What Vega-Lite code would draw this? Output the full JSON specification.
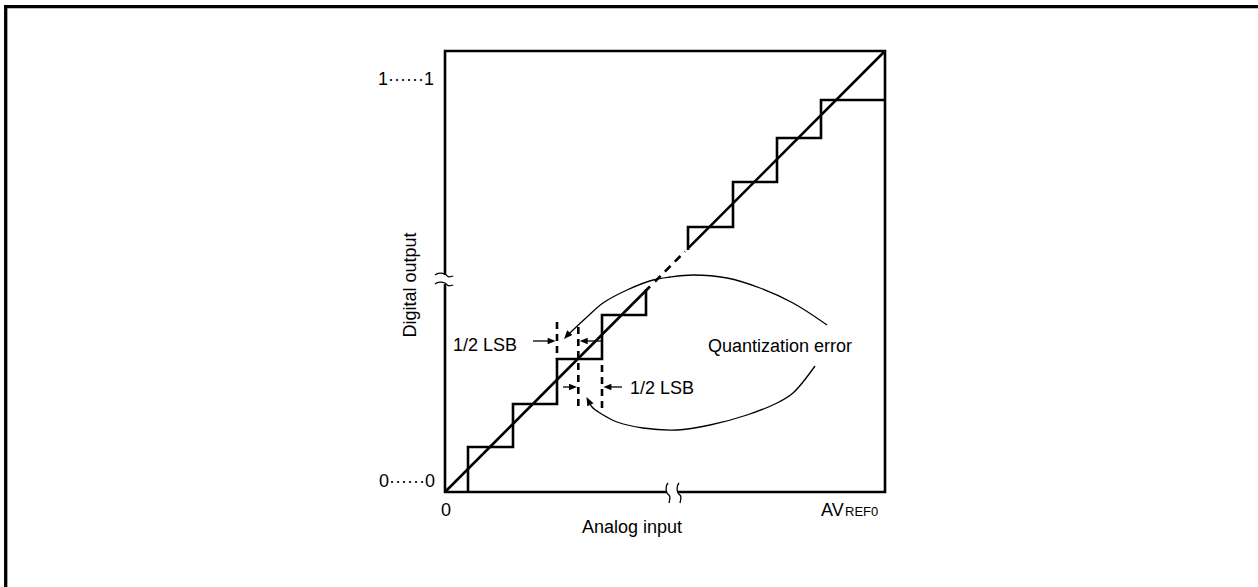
{
  "$schema": "https://vega.github.io/schema/vega-lite/v6.json",
  "width": 1258,
  "height": 587,
  "padding": 0,
  "autosize": {"type": "none"},
  "background": "white",
  "config": {"view": {"stroke": null}},
  "datasets": {
    "frame": [
      {"g": "L", "o": 1, "a": -439.3, "d": 487},
      {"g": "L", "o": 2, "a": -439.3, "d": -95},
      {"g": "T", "o": 1, "a": -441, "d": 485.3},
      {"g": "T", "o": 2, "a": 813, "d": 485.3}
    ],
    "solid": [
      {"g": "boxA", "o": 1, "a": 0, "d": 208},
      {"g": "boxA", "o": 2, "a": 0, "d": 0},
      {"g": "boxA", "o": 3, "a": 222, "d": 0},
      {"g": "boxB", "o": 1, "a": 233, "d": 0},
      {"g": "boxB", "o": 2, "a": 440, "d": 0},
      {"g": "boxB", "o": 3, "a": 440, "d": 441},
      {"g": "boxB", "o": 4, "a": 0, "d": 441},
      {"g": "boxB", "o": 5, "a": 0, "d": 217},
      {"g": "lo", "o": 1, "a": 23, "d": 0},
      {"g": "lo", "o": 2, "a": 23, "d": 45},
      {"g": "lo", "o": 3, "a": 68, "d": 45},
      {"g": "lo", "o": 4, "a": 68, "d": 88},
      {"g": "lo", "o": 5, "a": 112, "d": 88},
      {"g": "lo", "o": 6, "a": 112, "d": 133},
      {"g": "lo", "o": 7, "a": 157, "d": 133},
      {"g": "lo", "o": 8, "a": 157, "d": 177},
      {"g": "lo", "o": 9, "a": 201, "d": 177},
      {"g": "lo", "o": 10, "a": 201, "d": 203},
      {"g": "hi", "o": 1, "a": 243, "d": 242},
      {"g": "hi", "o": 2, "a": 243, "d": 265},
      {"g": "hi", "o": 3, "a": 288, "d": 265},
      {"g": "hi", "o": 4, "a": 288, "d": 310},
      {"g": "hi", "o": 5, "a": 332, "d": 310},
      {"g": "hi", "o": 6, "a": 332, "d": 354},
      {"g": "hi", "o": 7, "a": 376, "d": 354},
      {"g": "hi", "o": 8, "a": 376, "d": 392},
      {"g": "hi", "o": 9, "a": 440, "d": 392},
      {"g": "diag1", "o": 1, "a": 0, "d": 0},
      {"g": "diag1", "o": 2, "a": 205, "d": 205.5},
      {"g": "diag2", "o": 1, "a": 243, "d": 243.6},
      {"g": "diag2", "o": 2, "a": 440, "d": 441}
    ],
    "dashedV": [
      {"g": "v1", "o": 1, "a": 112, "d": 170},
      {"g": "v1", "o": 2, "a": 112, "d": 133},
      {"g": "v2", "o": 1, "a": 133.3, "d": 165},
      {"g": "v2", "o": 2, "a": 133.3, "d": 84},
      {"g": "v3", "o": 1, "a": 157, "d": 127},
      {"g": "v3", "o": 2, "a": 157, "d": 84}
    ],
    "dashedD": [
      {"g": "dd", "o": 1, "a": 210, "d": 210.5},
      {"g": "dd", "o": 2, "a": 240, "d": 240.5}
    ],
    "thin": [
      {"g": "c1", "o": 1, "a": 382, "d": 167},
      {"g": "c1", "o": 2, "a": 348, "d": 189},
      {"g": "c1", "o": 3, "a": 315, "d": 204},
      {"g": "c1", "o": 4, "a": 282, "d": 214},
      {"g": "c1", "o": 5, "a": 248, "d": 217},
      {"g": "c1", "o": 6, "a": 225, "d": 215},
      {"g": "c1", "o": 7, "a": 208, "d": 212},
      {"g": "c1", "o": 8, "a": 182, "d": 202},
      {"g": "c1", "o": 9, "a": 158, "d": 189},
      {"g": "c1", "o": 10, "a": 142, "d": 175},
      {"g": "c1", "o": 11, "a": 128, "d": 162},
      {"g": "c1", "o": 12, "a": 122, "d": 156},
      {"g": "c2", "o": 1, "a": 370, "d": 126},
      {"g": "c2", "o": 2, "a": 348, "d": 99},
      {"g": "c2", "o": 3, "a": 332, "d": 89},
      {"g": "c2", "o": 4, "a": 302, "d": 77},
      {"g": "c2", "o": 5, "a": 265, "d": 67},
      {"g": "c2", "o": 6, "a": 232, "d": 62},
      {"g": "c2", "o": 7, "a": 198, "d": 64},
      {"g": "c2", "o": 8, "a": 172, "d": 70},
      {"g": "c2", "o": 9, "a": 155, "d": 79},
      {"g": "c2", "o": 10, "a": 147, "d": 85},
      {"g": "c2", "o": 11, "a": 143, "d": 92},
      {"g": "s1", "o": 1, "a": 88, "d": 151},
      {"g": "s1", "o": 2, "a": 106, "d": 151},
      {"g": "s2", "o": 1, "a": 157, "d": 151},
      {"g": "s2", "o": 2, "a": 139, "d": 151},
      {"g": "s3", "o": 1, "a": 118, "d": 105},
      {"g": "s3", "o": 2, "a": 128, "d": 105},
      {"g": "s4", "o": 1, "a": 177, "d": 105},
      {"g": "s4", "o": 2, "a": 162, "d": 105},
      {"g": "t1", "o": 1, "a": -10, "d": 217},
      {"g": "t1", "o": 2, "a": -6.7, "d": 218.7},
      {"g": "t1", "o": 3, "a": 0, "d": 218},
      {"g": "t1", "o": 4, "a": 3.3, "d": 215.3},
      {"g": "t1", "o": 5, "a": 8.3, "d": 216},
      {"g": "t2", "o": 1, "a": -10, "d": 208},
      {"g": "t2", "o": 2, "a": -6.7, "d": 209.7},
      {"g": "t2", "o": 3, "a": 0, "d": 209},
      {"g": "t2", "o": 4, "a": 3.3, "d": 206.3},
      {"g": "t2", "o": 5, "a": 8.3, "d": 207},
      {"g": "t3", "o": 1, "a": 223, "d": 9},
      {"g": "t3", "o": 2, "a": 221.3, "d": 5.7},
      {"g": "t3", "o": 3, "a": 222, "d": -1},
      {"g": "t3", "o": 4, "a": 224.7, "d": -4.3},
      {"g": "t3", "o": 5, "a": 224, "d": -11},
      {"g": "t4", "o": 1, "a": 234, "d": 9},
      {"g": "t4", "o": 2, "a": 232.3, "d": 5.7},
      {"g": "t4", "o": 3, "a": 233, "d": -1},
      {"g": "t4", "o": 4, "a": 235.7, "d": -4.3},
      {"g": "t4", "o": 5, "a": 235, "d": -11}
    ],
    "heads": [
      {"a": 110.6, "d": 151, "ang": 0},
      {"a": 134.7, "d": 151, "ang": 180},
      {"a": 132, "d": 105, "ang": 0},
      {"a": 158.4, "d": 105, "ang": 180}
    ],
    "curveHeads": [
      {"a": 119, "d": 153, "ang": 132},
      {"a": 141.5, "d": 95, "ang": 243}
    ],
    "textRight": [
      {"a": -11, "d": 407, "t": "1······1"},
      {"a": -10, "d": 5, "t": "0······0"}
    ],
    "textLeft": [
      {"a": 376, "d": -24, "t": "AV"},
      {"a": 8, "d": 141.5, "t": "1/2 LSB"},
      {"a": 185, "d": 98.5, "t": "1/2 LSB"},
      {"a": 263, "d": 140.5, "t": "Quantization error"}
    ],
    "textSub": [
      {"a": 400, "d": -24, "t": "REF0"}
    ],
    "textCenter": [
      {"a": 1, "d": -24, "t": "0"},
      {"a": 187, "d": -41, "t": "Analog input"}
    ],
    "textRot": [
      {"a": -29, "d": 207, "t": "Digital output"}
    ]
  },
  "encoding": {
    "x": {"field": "a", "type": "quantitative", "scale": {"domain": [-445, 813], "nice": false, "zero": false}, "axis": null},
    "y": {"field": "d", "type": "quantitative", "scale": {"domain": [-95, 492], "nice": false, "zero": false}, "axis": null}
  },
  "layer": [
    {
      "data": {"name": "frame"},
      "mark": {"type": "line", "color": "#000000", "strokeWidth": 3.3, "strokeCap": "butt"},
      "encoding": {"detail": {"field": "g"}, "order": {"field": "o", "type": "quantitative"}}
    },
    {
      "data": {"name": "solid"},
      "mark": {"type": "line", "color": "#000000", "strokeWidth": 2.6, "strokeCap": "butt", "strokeJoin": "miter"},
      "encoding": {"detail": {"field": "g"}, "order": {"field": "o", "type": "quantitative"}}
    },
    {
      "data": {"name": "dashedV"},
      "mark": {"type": "line", "color": "#000000", "strokeWidth": 2.6, "strokeCap": "butt", "strokeDash": [7, 5]},
      "encoding": {"detail": {"field": "g"}, "order": {"field": "o", "type": "quantitative"}}
    },
    {
      "data": {"name": "dashedD"},
      "mark": {"type": "line", "color": "#000000", "strokeWidth": 2.6, "strokeCap": "butt", "strokeDash": [8, 6]},
      "encoding": {"detail": {"field": "g"}, "order": {"field": "o", "type": "quantitative"}}
    },
    {
      "data": {"name": "thin"},
      "mark": {"type": "line", "color": "#000000", "strokeWidth": 1.3, "interpolate": "catmull-rom"},
      "encoding": {"detail": {"field": "g"}, "order": {"field": "o", "type": "quantitative"}}
    },
    {
      "data": {"name": "heads"},
      "mark": {"type": "point", "shape": "M0,0L-1,-0.4L-1,0.4Z", "filled": true, "color": "#000000", "opacity": 1, "size": 256, "strokeWidth": 0},
      "encoding": {"angle": {"field": "ang", "type": "quantitative", "scale": null}}
    },
    {
      "data": {"name": "curveHeads"},
      "mark": {"type": "point", "shape": "M0,0L-1,-0.4L-1,0.4Z", "filled": true, "color": "#000000", "opacity": 1, "size": 300, "strokeWidth": 0},
      "encoding": {"angle": {"field": "ang", "type": "quantitative", "scale": null}}
    },
    {
      "data": {"name": "textRight"},
      "mark": {"type": "text", "align": "right", "baseline": "alphabetic", "font": "Liberation Sans", "fontSize": 18, "color": "#000000"},
      "encoding": {"text": {"field": "t"}}
    },
    {
      "data": {"name": "textLeft"},
      "mark": {"type": "text", "align": "left", "baseline": "alphabetic", "font": "Liberation Sans", "fontSize": 18, "color": "#000000"},
      "encoding": {"text": {"field": "t"}}
    },
    {
      "data": {"name": "textSub"},
      "mark": {"type": "text", "align": "left", "baseline": "alphabetic", "font": "Liberation Sans", "fontSize": 13, "color": "#000000"},
      "encoding": {"text": {"field": "t"}}
    },
    {
      "data": {"name": "textCenter"},
      "mark": {"type": "text", "align": "center", "baseline": "alphabetic", "font": "Liberation Sans", "fontSize": 18, "color": "#000000"},
      "encoding": {"text": {"field": "t"}}
    },
    {
      "data": {"name": "textRot"},
      "mark": {"type": "text", "align": "center", "baseline": "alphabetic", "angle": 270, "font": "Liberation Sans", "fontSize": 18, "color": "#000000"},
      "encoding": {"text": {"field": "t"}}
    }
  ]
}
